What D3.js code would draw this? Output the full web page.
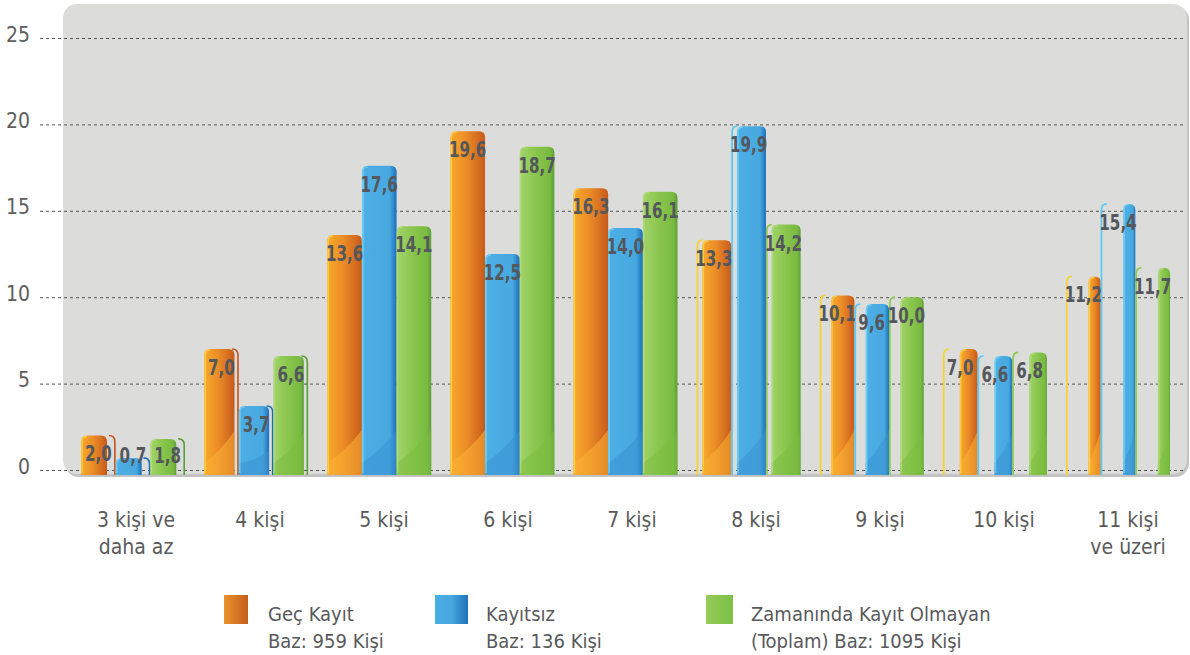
<!DOCTYPE html>
<html>
<head>
<meta charset="utf-8">
<script src="https://cdn.jsdelivr.net/npm/d3@7"></script>
<style>
body { margin: 0; background: #fff; }
text { font-family: "DejaVu Sans Condensed", "DejaVu Sans", sans-serif; }
</style>
</head>
<body>
<div id="chart"></div>
<script>
// Chart data
var categories = ["3 kişi ve\ndaha az", "4 kişi", "5 kişi", "6 kişi", "7 kişi", "8 kişi", "9 kişi", "10 kişi", "11 kişi\nve üzeri"];
var gecKayit  = [2.0, 7.0, 13.6, 19.6, 16.3, 13.3, 10.1, 7.0, 11.2];
var kayitsiz  = [0.7, 3.7, 17.6, 12.5, 14.0, 19.9, 9.6, 6.6, 15.4];
var zamaninda = [1.8, 6.6, 14.1, 18.7, 16.1, 14.2, 10.0, 6.8, 11.7];
var legendLabels = [["Geç Kayıt", "Baz: 959 Kişi"], ["Kayıtsız", "Baz: 136 Kişi"], ["Zamanında Kayıt Olmayan", "(Toplam) Baz: 1095 Kişi"]];
var yTicks = [0, 5, 10, 15, 20, 25];

var series = [gecKayit, kayitsiz, zamaninda];

var width = 1190,
    height = 655;

var svg = d3.select("#chart").append("svg")
    .attr("width", width)
    .attr("height", height);

var defs = svg.append("defs");

// colours for each series: gradient stops, side outlines, foot shading
var palette = [
    {stops: [["0%", "#f7aa2c"], ["45%", "#ec8d27"], ["85%", "#d2691f"], ["100%", "#c55a1c"]],
     ghostL: "#f8d432", ghostR: "#c4531d", edge: "#ffd640", foot: "#fbb234", swatch: ["#e9922a", "#c55e1f"]},
    {stops: [["0%", "#5cc3f1"], ["8%", "#4caee4"], ["80%", "#47a9df"], ["92%", "#2c85c9"], ["100%", "#1a6db7"]],
     ghostL: "#5ccbf5", ghostR: "#1a6db8", edge: "#74d3f8", foot: "#3a92d1", swatch: ["#4aaee3", "#47a8df", "#1f72bb"]},
    {stops: [["0%", "#a2d36a"], ["50%", "#88c54c"], ["88%", "#79ba41"], ["100%", "#5c9f38"]],
     ghostL: "#8fcb55", ghostR: "#5a9f38", edge: "#b2dc7c", foot: "#7cbd40", swatch: ["#93cc5a", "#7dbf44"]}
];

palette.forEach(function(p, i) {
    var g = defs.append("linearGradient").attr("id", "bar" + i)
        .attr("x1", 0).attr("x2", 1).attr("y1", 0).attr("y2", 0);
    p.stops.forEach(function(s) {
        g.append("stop").attr("offset", s[0]).attr("stop-color", s[1]);
    });
    var sw = defs.append("linearGradient").attr("id", "sw" + i)
        .attr("x1", 0).attr("x2", 1).attr("y1", 0).attr("y2", 0);
    p.swatch.forEach(function(c, k) {
        sw.append("stop").attr("offset", (k / (p.swatch.length - 1) * 100) + "%").attr("stop-color", c);
    });
});

// Gray rounded panel behind the plot:
svg.append("rect")
    .attr("x", 65).attr("y", 6)
    .attr("width", 1124).attr("height", 471)
    .attr("rx", 14)
    .attr("fill", "#c3c3c3");
svg.append("rect")
    .attr("x", 63).attr("y", 4)
    .attr("width", 1124).attr("height", 470)
    .attr("rx", 14)
    .attr("fill", "#dcdcda");

// Scales:
var y = d3.scaleLinear()
    .domain([0, 25])
    .range([470, 38]);

var x0 = d3.scalePoint()
    .domain(d3.range(categories.length))
    .range([133, 1118]);

var x1 = d3.scaleBand()
    .domain(d3.range(series.length))
    .range([-52, 52]);

var xLabel = d3.scalePoint()
    .domain(d3.range(categories.length))
    .range([136, 1128]);

// how much each group is turned away from the viewer
var turn = d3.scaleLinear()
    .domain([0, 2, 4, 8])
    .range([-0.25, 0, 0, 0.65])
    .clamp(true);

// Gridlines and y labels:
var yAxis = svg.append("g")
    .attr("transform", "translate(40,0)")
    .call(d3.axisLeft(y).tickValues(yTicks).tickSize(-1145).tickPadding(10));
yAxis.select(".domain").remove();
yAxis.selectAll(".tick line")
    .attr("stroke", "#555")
    .attr("stroke-dasharray", "3,3");
yAxis.selectAll(".tick text")
    .attr("fill", "#5e5e5e")
    .attr("dy", "0.15em")
    .style("font-size", "21px");

function roundedTop(x, yTop, w, yBot, r) {
    r = Math.max(0, Math.min(r, w / 2, yBot - yTop));
    return "M" + x + "," + yBot +
        "V" + (yTop + r) +
        "Q" + x + "," + yTop + " " + (x + r) + "," + yTop +
        "H" + (x + w - r) +
        "Q" + (x + w) + "," + yTop + " " + (x + w) + "," + (yTop + r) +
        "V" + yBot + "Z";
}

var fmt = d3.format(".1f");
var bottom = y(0) + 5;

// Build flat list of bars:
var bars = [];
categories.forEach(function(c, i) {
    series.forEach(function(s, k) {
        bars.push({group: i, series: k, value: s[i]});
    });
});

var barG = svg.append("g").selectAll("g.bar")
    .data(bars).enter()
    .append("g")
        .attr("class", "bar");

barG.each(function(d) {
    var g = d3.select(this),
        p = palette[d.series],
        w = x1.bandwidth(),
        slotL = x0(d.group) + x1(d.series),
        t = turn(d.group),
        fw = w * (1 - Math.abs(t)),
        fillL = t > 0 ? slotL + w - fw : slotL,
        top = y(d.value),
        r = 6;

    // thin side outline of the turned ribbon
    if (t > 0.01) {
        g.append("path")
            .attr("d", "M" + (slotL + 0.8) + "," + bottom + "V" + (top + r) +
                "Q" + (slotL + 0.8) + "," + top + " " + (slotL + r) + "," + top)
            .attr("fill", "none")
            .attr("stroke", p.ghostL)
            .attr("stroke-width", 1.8);
    } else if (t < -0.01) {
        var sr = slotL + w - 0.8;
        g.append("path")
            .attr("d", "M" + (sr - r) + "," + top + "Q" + sr + "," + top + " " + sr + "," + (top + r) +
                "V" + bottom)
            .attr("fill", "none")
            .attr("stroke", p.ghostR)
            .attr("stroke-width", 1.6);
    }

    g.append("path")
        .attr("d", roundedTop(fillL, top, fw, bottom, r))
        .attr("fill", "url(#bar" + d.series + ")");

    // foot shading
    var h = bottom - top;
    if (h > 50) {
        var f1 = Math.min(45, h * 0.35);
        g.append("path")
            .attr("d", "M" + fillL + "," + bottom +
                "V" + (bottom - 12) +
                "Q" + (fillL + fw * 0.55) + "," + (bottom - f1 * 0.55) + " " + (fillL + fw) + "," + (bottom - f1) +
                "V" + bottom + "Z")
            .attr("fill", p.foot)
            .attr("opacity", 0.55);
    }

    // light left edge
    g.append("path")
        .attr("d", "M" + (fillL + 1) + "," + (bottom - 2) + "V" + (top + r) +
            "Q" + (fillL + 1) + "," + (top + 1) + " " + (fillL + r) + "," + (top + 1))
        .attr("fill", "none")
        .attr("stroke", p.edge)
        .attr("stroke-width", 1.4)
        .attr("opacity", 0.8);
});

// Value labels:
svg.append("g").selectAll("text")
    .data(bars).enter()
    .append("text")
        .attr("transform", function(d) {
            var cx = x0(d.group) + x1(d.series) + x1.bandwidth() / 2,
                cy = Math.min(y(d.value) + 26, y(0) - 7);
            return "translate(" + cx + "," + cy + ") scale(0.8,1)";
        })
        .attr("text-anchor", "middle")
        .attr("fill", "#54575b")
        .style("font-size", "21px")
        .style("font-weight", "bold")
        .text(function(d) { return fmt(d.value).replace(".", ","); });

// Category labels:
var catText = svg.append("g").selectAll("text")
    .data(categories).enter()
    .append("text")
        .attr("x", function(d, i) { return xLabel(i); })
        .attr("y", 527)
        .attr("text-anchor", "middle")
        .attr("fill", "#5a5a5a")
        .style("font-size", "21px");
catText.selectAll("tspan")
    .data(function(d) { return d.split("\n"); }).enter()
    .append("tspan")
        .attr("x", function() { return d3.select(this.parentNode).attr("x"); })
        .attr("dy", function(d, i) { return i ? 27 : 0; })
        .text(function(d) { return d; });

// Legend:
var legendSwatchX = [224, 435, 706],
    legendSwatchW = [24, 33, 27],
    legendTextX = [268, 486, 751];

var legend = svg.append("g").selectAll("g")
    .data(legendLabels).enter()
    .append("g");

legend.append("rect")
    .attr("x", function(d, i) { return legendSwatchX[i]; })
    .attr("y", 595)
    .attr("width", function(d, i) { return legendSwatchW[i]; })
    .attr("height", 29)
    .attr("fill", function(d, i) { return "url(#sw" + i + ")"; });

legend.each(function(d, i) {
    d3.select(this).selectAll("text")
        .data(d).enter()
        .append("text")
            .attr("x", legendTextX[i])
            .attr("y", function(t, k) { return 621 + k * 27; })
            .attr("fill", "#58595b")
            .style("font-size", "20px")
            .text(function(t) { return t; });
});
</script>
</body>
</html>
